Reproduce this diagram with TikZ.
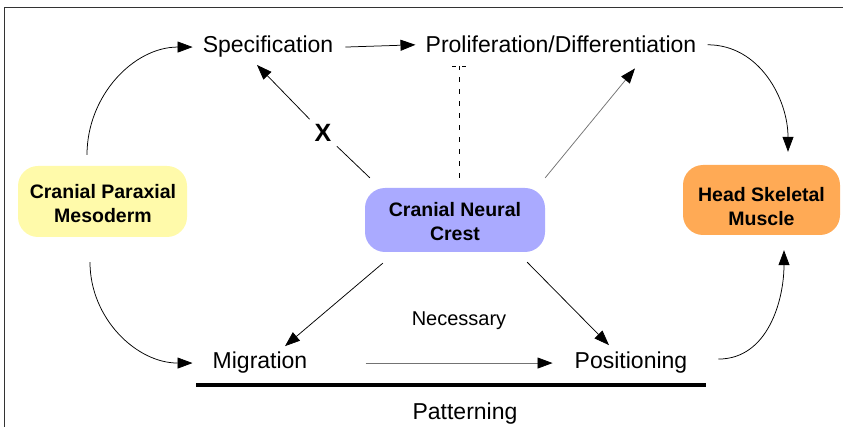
\documentclass[tikz,border=0pt]{standalone}
\usepackage{fontspec}
\setmainfont{Liberation Sans}
\usetikzlibrary{arrows.meta}
\definecolor{cpmc}{HTML}{FFFAAA}
\definecolor{cncc}{HTML}{AAAAFF}
\definecolor{hsmc}{HTML}{FFAA55}
\definecolor{framec}{HTML}{333333}
\begin{document}
\begin{tikzpicture}[x=1pt,y=1pt,
  lbl/.style={font=\fontsize{23}{27}\selectfont, inner sep=0pt, anchor=base},
  box/.style={rounded corners=20pt, draw=none, inner sep=0pt},
  btext/.style={font=\bfseries\fontsize{19.5}{24}\selectfont, align=center, inner sep=0pt},
  arr/.style={line width=0.75pt, -{Triangle[length=15pt,width=11pt]}},
  garr/.style={line width=0.75pt, draw=gray!90!black, -{Triangle[length=15pt,width=11pt,color=black]}},
  plainline/.style={line width=0.75pt},
  dashline/.style={line width=0.75pt, dash pattern=on 5pt off 7pt}
]
\useasboundingbox (0,0) rectangle (843,-427);
% frame
\draw[line width=0.8pt, framec] (4,-427) -- (4,-7) -- (843,-7);

% boxes
\node[box, fill=cpmc, minimum width=169pt, minimum height=71pt] (CPM) at (102.5,-201.5) {};
\node[btext] (CPMt) at (103,-204) {Cranial Paraxial\\Mesoderm};
\node[box, fill=cncc, minimum width=180pt, minimum height=64pt] (CNC) at (455,-220) {};
\node[btext] (CNCt) at (455,-221.5) {Cranial Neural\\Crest};
\node[box, fill=hsmc, minimum width=157pt, minimum height=70pt] (HSM) at (761.5,-200) {};
\node[btext] (HSMt) at (761.5,-206.5) {Head Skeletal\\Muscle};

% labels
\node[lbl] (spec) at (268,-53) {Specification};
\node[lbl] (prolif) at (561,-53) {Proliferation/Differentiation};
\node[lbl] (mig) at (260,-369) {Migration};
\node[lbl] (pos) at (631,-369) {Positioning};
\node[lbl, font=\fontsize{20}{24}\selectfont] (nec) at (459,-326) {Necessary};
\node[lbl] (pat) at (465,-419) {Patterning};
\node[font=\bfseries\fontsize{25}{29}\selectfont, circle, inner sep=5pt] (X) at (323,-133) {X};

% connectors
\draw[arr] ([xshift=-15.5pt,yshift=11pt]CPM.north) to[out=90,in=180] ([xshift=-10pt]spec.west);
\draw[arr] ([xshift=12pt]spec.east) -- ([xshift=-10pt]prolif.west);
\draw[arr] ([xshift=11pt]prolif.east) to[out=0,in=90] ([xshift=26.5pt,yshift=13pt]HSM.north);
\draw[arr] ([xshift=-12.5pt,yshift=-25pt]CPM.south) to[out=-90,in=180] ([xshift=-20pt]mig.west);
\draw[garr] ([xshift=58pt]mig.east) -- ([xshift=-22pt]pos.west);
\draw[arr] ([xshift=31pt,yshift=4pt]pos.east) to[out=0,in=-90] ([xshift=22.5pt,yshift=-15pt]HSM.south);

\draw[plainline] ([shift={(5pt,10pt)}]CNC.north west) -- (X);
\draw[arr] (X) -- ([shift={(-11pt,-7pt)}]spec.south);
\draw[garr] ([shift={(0pt,10pt)}]CNC.north east) -- ([shift={(74pt,-15pt)}]prolif.south);
\draw[arr] ([shift={(18pt,-11pt)}]CNC.south west) -- ([shift={(25pt,6pt)}]mig.north);
\draw[arr] ([shift={(-18pt,-10pt)}]CNC.south east) -- ([shift={(-22pt,7pt)}]pos.north);

% inhibition (dashed)
\coordinate (dbot) at (459,-178);
\coordinate (dtop) at (459,-66);
\draw[dashline] (dbot) -- (dtop);
\draw[line width=0.75pt] ([xshift=-7pt]dtop) -- ([xshift=-3pt]dtop);
\draw[line width=0.75pt] ([xshift=3pt]dtop) -- ([xshift=7pt]dtop);
\draw[line width=0.75pt] (dtop) -- ([yshift=-4pt]dtop);

% patterning bar
\draw[line width=4pt] (196,-385) -- (706,-385);
\end{tikzpicture}
\end{document}
